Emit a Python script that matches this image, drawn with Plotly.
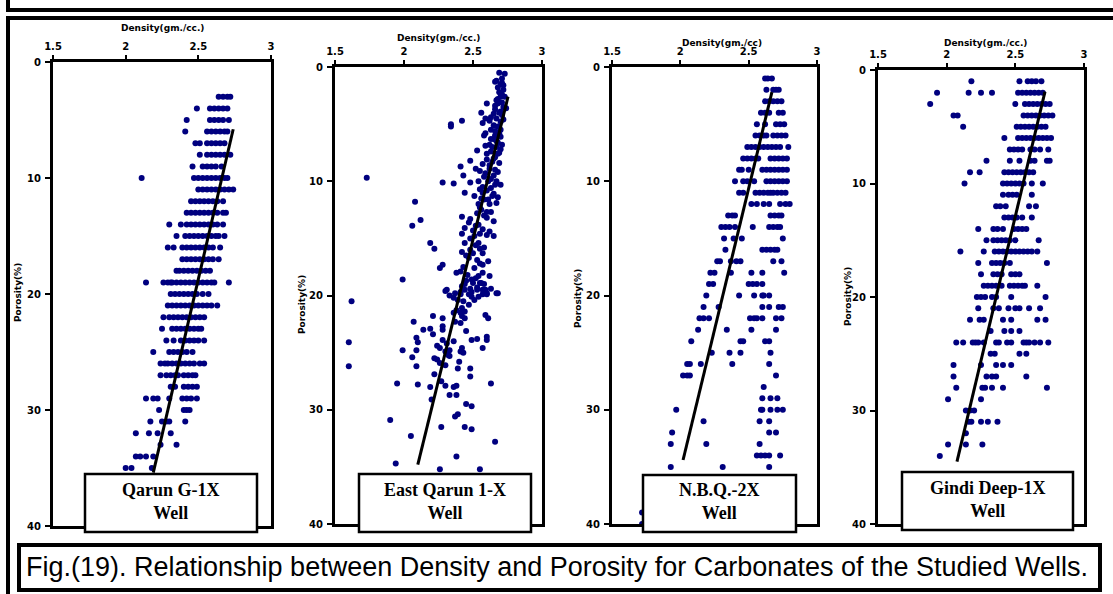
import plotly.graph_objects as go

W, H = 1113, 594

# ---------------- data ----------------
WELLS = ["Qarun G-1X<br>Well", "East Qarun 1-X<br>Well", "N.B.Q.-2X<br>Well", "Gindi Deep-1X<br>Well"]
X_TITLES = ["Density(gm./cc.)", "Density(gm./cc.)", "Density(gm./cc)", "Density(gm./cc.)"]
Y_TITLE = "Porosity(%)"
X_TICKS = [1.5, 2, 2.5, 3]
Y_TICKS = [0, 10, 20, 30, 40]
CAPTION = "Fig.(19). Relationship between Density and Porosity for Carbonates of the Studied Wells."

# (porosity %, [densities g/cc]) rows
QARUN_ROWS = [
    (3, [2.64, 2.67, 2.70, 2.72]),
    (4, [2.49, 2.58, 2.61, 2.64, 2.67, 2.70]),
    (5, [2.42, 2.58, 2.61, 2.64, 2.67, 2.71]),
    (6, [2.41, 2.56, 2.59, 2.62, 2.65, 2.68, 2.70]),
    (7, [2.48, 2.51, 2.56, 2.59, 2.62, 2.65, 2.68]),
    (8, [2.51, 2.56, 2.59, 2.62, 2.65, 2.68, 2.72]),
    (9, [2.46, 2.53, 2.56, 2.59, 2.62, 2.66]),
    (10, [2.11, 2.47, 2.50, 2.53, 2.56, 2.59, 2.62, 2.65, 2.68, 2.70]),
    (11, [2.50, 2.53, 2.56, 2.59, 2.62, 2.65, 2.68, 2.71, 2.74]),
    (12, [2.45, 2.48, 2.51, 2.54, 2.57, 2.60, 2.63, 2.67]),
    (13, [2.42, 2.45, 2.48, 2.51, 2.54, 2.57, 2.60, 2.63, 2.67, 2.69]),
    (14, [2.30, 2.38, 2.42, 2.45, 2.48, 2.51, 2.54, 2.57, 2.60, 2.63, 2.67]),
    (15, [2.35, 2.41, 2.44, 2.47, 2.50, 2.53, 2.56, 2.59, 2.62, 2.64, 2.68]),
    (16, [2.29, 2.33, 2.39, 2.42, 2.45, 2.48, 2.51, 2.54, 2.57, 2.60, 2.65]),
    (17, [2.39, 2.42, 2.45, 2.48, 2.51, 2.54, 2.57, 2.60, 2.64]),
    (18, [2.35, 2.37, 2.40, 2.43, 2.46, 2.49, 2.52, 2.55, 2.58]),
    (19, [2.14, 2.26, 2.29, 2.31, 2.32, 2.35, 2.38, 2.41, 2.44, 2.47, 2.50, 2.53, 2.56, 2.59, 2.61, 2.71]),
    (20, [2.31, 2.34, 2.37, 2.40, 2.43, 2.46, 2.49, 2.53, 2.57]),
    (21, [2.29, 2.32, 2.35, 2.38, 2.41, 2.44, 2.47, 2.50, 2.53, 2.56, 2.59, 2.63]),
    (22, [2.26, 2.30, 2.33, 2.36, 2.39, 2.42, 2.45, 2.48, 2.51, 2.54]),
    (23, [2.25, 2.32, 2.35, 2.38, 2.41, 2.44, 2.47, 2.50, 2.52]),
    (24, [2.28, 2.33, 2.38, 2.41, 2.44, 2.47, 2.50, 2.54]),
    (25, [2.19, 2.30, 2.33, 2.36, 2.39, 2.42, 2.46]),
    (26, [2.24, 2.27, 2.29, 2.32, 2.35, 2.38, 2.41, 2.44, 2.47, 2.51, 2.54]),
    (27, [2.24, 2.28, 2.31, 2.34, 2.36, 2.40, 2.43, 2.46, 2.48]),
    (28, [2.31, 2.34, 2.40, 2.43, 2.46, 2.49]),
    (29, [2.14, 2.19, 2.22, 2.30, 2.39, 2.42, 2.45, 2.49]),
    (30, [2.23, 2.40, 2.42, 2.44]),
    (31, [2.17, 2.25, 2.28, 2.30, 2.41]),
    (32, [2.07, 2.16, 2.22, 2.31]),
    (33, [2.24, 2.35]),
    (34, [2.07, 2.10, 2.14, 2.19]),
    (35, [2.00, 2.04, 2.18]),
]

# (density, porosity) scattered points
EAST_QARUN_POINTS = [
    (2.69, 0.5), (2.73, 0.6), (2.71, 1.0), (2.67, 1.2), (2.66, 1.3), (2.71, 1.4), (2.70, 1.5), (2.72, 1.6),
    (2.68, 1.8), (2.72, 2.0), (2.69, 2.2), (2.71, 2.4), (2.70, 2.6), (2.73, 2.6), (2.68, 2.8), (2.67, 2.9),
    (2.71, 3.1), (2.60, 3.2), (2.68, 3.2), (2.66, 3.4), (2.72, 3.5), (2.74, 3.6), (2.66, 3.7), (2.70, 3.9),
    (2.56, 4.0), (2.69, 4.0), (2.65, 4.1), (2.71, 4.2), (2.63, 4.4), (2.67, 4.5), (2.59, 4.5), (2.72, 4.6),
    (2.62, 4.7), (2.42, 4.7), (2.70, 4.8), (2.57, 4.9), (2.34, 5.0), (2.34, 5.2), (2.65, 5.1), (2.68, 5.2),
    (2.63, 5.5), (2.70, 5.5), (2.66, 5.6), (2.59, 5.8), (2.69, 5.8), (2.58, 6.0), (2.66, 6.0), (2.70, 6.1),
    (2.65, 6.3), (2.63, 6.3), (2.67, 6.5), (2.68, 6.6), (2.62, 6.8), (2.71, 6.8), (2.59, 6.9), (2.67, 7.0),
    (2.64, 7.0), (2.70, 7.2), (2.53, 7.3), (2.63, 7.4), (2.69, 7.5), (2.68, 7.6), (2.60, 7.6), (2.66, 7.9),
    (2.65, 8.0), (2.60, 8.1), (2.48, 8.2), (2.64, 8.3), (2.69, 8.4), (2.57, 8.5), (2.62, 8.6), (2.41, 8.7),
    (2.52, 8.9), (2.62, 8.9), (2.66, 9.0), (2.55, 9.1), (2.68, 9.2), (2.59, 9.3), (2.43, 9.5), (2.65, 9.5),
    (2.58, 9.6), (1.73, 9.7), (2.63, 9.8), (2.54, 10.0), (2.61, 10.0), (2.67, 10.0), (2.48, 10.1), (2.28, 10.1),
    (2.36, 10.2), (2.66, 10.3), (2.70, 10.3), (2.57, 10.5), (2.63, 10.6), (2.55, 10.7), (2.60, 10.8), (2.44, 11.0),
    (2.57, 11.0), (2.65, 11.1), (2.51, 11.3), (2.64, 11.3), (2.68, 11.4), (2.56, 11.5), (2.61, 11.6), (2.58, 11.6),
    (2.08, 11.8), (2.67, 11.9), (2.54, 12.0), (2.62, 12.0), (2.55, 12.3), (2.56, 12.5), (2.60, 12.7), (2.63, 12.7),
    (2.53, 12.8), (2.58, 13.0), (2.42, 13.1), (2.60, 13.2), (2.48, 13.3), (2.12, 13.4), (2.65, 13.5), (2.47, 13.6),
    (2.54, 13.8), (2.06, 13.9), (2.52, 13.9), (2.44, 14.1), (2.57, 14.2), (2.50, 14.3), (2.62, 14.4), (2.42, 14.6),
    (2.55, 14.6), (2.60, 14.7), (2.51, 14.8), (2.65, 14.8), (2.48, 15.0), (2.19, 15.4), (2.44, 15.4), (2.54, 15.4),
    (2.52, 15.6), (2.58, 15.8), (2.22, 15.9), (2.55, 15.9), (2.48, 16.0), (2.42, 16.2), (2.50, 16.3), (2.57, 16.3),
    (2.45, 16.5), (2.47, 16.7), (2.53, 16.9), (2.61, 17.0), (2.55, 17.2), (2.28, 17.3), (2.57, 17.3), (2.43, 17.5),
    (2.26, 17.6), (2.51, 17.6), (2.41, 17.9), (2.38, 18.0), (2.57, 18.0), (2.46, 18.2), (2.62, 18.3), (2.54, 18.3),
    (2.52, 18.5), (2.49, 18.6), (1.99, 18.6), (2.45, 18.7), (2.50, 18.9), (2.55, 18.9), (2.56, 18.9), (2.44, 19.0),
    (2.58, 19.0), (2.42, 19.2), (2.53, 19.3), (2.48, 19.4), (2.63, 19.4), (2.31, 19.5), (2.57, 19.5), (2.44, 19.5),
    (2.53, 19.5), (2.59, 19.5), (2.30, 19.6), (2.41, 19.7), (2.49, 19.7), (2.60, 19.8), (2.68, 19.8), (2.37, 19.8),
    (2.67, 19.8), (2.47, 19.9), (2.41, 19.9), (2.57, 19.9), (2.60, 19.9), (2.33, 20.0), (2.54, 20.1), (2.49, 20.1),
    (2.36, 20.2), (2.39, 20.4), (2.51, 20.4), (2.43, 20.5), (1.62, 20.5), (2.47, 20.8), (2.42, 21.1), (2.38, 21.3),
    (2.44, 21.4), (2.41, 21.5), (2.36, 21.5), (2.59, 21.7), (2.42, 21.8), (2.21, 21.8), (2.44, 22.0), (2.61, 22.0),
    (2.28, 22.0), (2.37, 22.3), (2.07, 22.3), (2.41, 22.4), (2.28, 22.7), (2.19, 22.9), (2.14, 23.0), (2.28, 23.0),
    (2.45, 23.1), (2.21, 23.4), (2.60, 23.6), (2.09, 23.7), (2.53, 23.8), (2.49, 23.9), (2.28, 23.9), (2.60, 23.9),
    (2.36, 24.0), (1.60, 24.1), (2.10, 24.1), (2.31, 24.2), (2.24, 24.4), (2.26, 24.6), (2.42, 24.6), (2.57, 24.6),
    (2.09, 24.8), (2.33, 24.8), (1.99, 24.8), (2.30, 24.9), (2.41, 24.9), (2.43, 25.0), (2.32, 25.2), (2.33, 25.3),
    (2.06, 25.4), (2.22, 25.5), (2.24, 25.6), (2.40, 25.8), (2.26, 25.9), (2.30, 26.1), (1.60, 26.2), (2.09, 26.2),
    (2.39, 26.4), (2.48, 26.4), (2.22, 26.9), (2.48, 27.1), (2.27, 27.5), (1.95, 27.7), (2.63, 27.7), (2.10, 27.8),
    (2.30, 27.9), (2.38, 27.9), (2.19, 28.0), (2.36, 28.0), (2.33, 28.7), (2.38, 28.7), (2.20, 29.1), (2.45, 29.5),
    (2.49, 29.7), (2.39, 30.4), (2.37, 30.6), (1.90, 30.9), (2.27, 31.5), (2.44, 31.5), (2.49, 31.7), (2.05, 32.3),
    (2.66, 32.8), (2.38, 34.1), (1.94, 34.7), (2.26, 35.2), (2.55, 35.2),
]

NBQ_ROWS = [
    (1, [2.62, 2.64, 2.67]),
    (2, [2.63, 2.68, 2.70, 2.72]),
    (3, [2.62, 2.65, 2.68, 2.71, 2.74]),
    (4, [2.59, 2.62, 2.65, 2.72, 2.75]),
    (5, [2.56, 2.62, 2.70, 2.73, 2.76]),
    (6, [2.55, 2.58, 2.61, 2.63, 2.68, 2.71, 2.74, 2.77]),
    (7, [2.49, 2.52, 2.55, 2.58, 2.61, 2.64, 2.67, 2.70, 2.73, 2.79]),
    (8, [2.46, 2.49, 2.52, 2.55, 2.57, 2.66, 2.69, 2.72, 2.75, 2.78]),
    (9, [2.43, 2.45, 2.50, 2.60, 2.63, 2.66, 2.69, 2.72, 2.75, 2.78]),
    (10, [2.40, 2.46, 2.49, 2.54, 2.63, 2.66, 2.69, 2.72, 2.75, 2.78]),
    (11, [2.43, 2.46, 2.55, 2.58, 2.61, 2.64, 2.66, 2.68, 2.71, 2.74, 2.77]),
    (12, [2.52, 2.56, 2.61, 2.65, 2.73, 2.77, 2.80]),
    (13, [2.35, 2.38, 2.40, 2.66, 2.69, 2.72, 2.74]),
    (14, [2.30, 2.33, 2.36, 2.40, 2.53, 2.65, 2.68, 2.71, 2.73]),
    (15, [2.32, 2.39, 2.45, 2.75]),
    (16, [2.33, 2.60, 2.63, 2.66, 2.69, 2.71]),
    (17, [2.27, 2.29, 2.37, 2.41, 2.44, 2.68, 2.74]),
    (18, [2.22, 2.25, 2.37, 2.52, 2.60, 2.76]),
    (19, [2.21, 2.24, 2.50, 2.53, 2.56, 2.60]),
    (20, [2.19, 2.43, 2.54, 2.60, 2.61, 2.65]),
    (21, [2.17, 2.28, 2.60, 2.65, 2.72, 2.75]),
    (22, [2.14, 2.17, 2.21, 2.51, 2.54, 2.56, 2.60, 2.70, 2.74]),
    (23, [2.13, 2.34, 2.52, 2.70]),
    (24, [2.08, 2.44, 2.46, 2.62, 2.65]),
    (25, [2.23, 2.36, 2.44, 2.66]),
    (26, [2.05, 2.07, 2.15, 2.38, 2.65]),
    (27, [2.02, 2.05, 2.07, 2.70]),
    (28, [2.61]),
    (29, [2.60, 2.66, 2.71]),
    (30, [1.97, 2.59, 2.60, 2.66, 2.71, 2.75]),
    (31, [2.17, 2.58, 2.65]),
    (32, [1.94, 2.65, 2.70]),
    (33, [1.93, 2.19, 2.58]),
    (34, [2.56, 2.59, 2.62, 2.65, 2.73]),
    (35, [1.93, 2.31, 2.65]),
    (39, [1.72]),
    (40, [1.72]),
]

GINDI_ROWS = [
    (1, [2.18, 2.53, 2.59, 2.62, 2.65, 2.69]),
    (2, [1.93, 2.16, 2.25, 2.33, 2.52, 2.55, 2.58, 2.61, 2.64, 2.67, 2.70]),
    (3, [1.88, 2.50, 2.57, 2.60, 2.63, 2.66, 2.69, 2.72, 2.75]),
    (4, [2.05, 2.08, 2.56, 2.59, 2.62, 2.65, 2.68, 2.71, 2.74, 2.77]),
    (5, [2.12, 2.51, 2.54, 2.57, 2.60, 2.63, 2.66, 2.69, 2.72]),
    (6, [2.42, 2.52, 2.55, 2.58, 2.61, 2.64, 2.67, 2.70, 2.73, 2.76]),
    (7, [2.46, 2.49, 2.52, 2.55, 2.61, 2.64, 2.68, 2.74]),
    (8, [2.29, 2.46, 2.53, 2.61, 2.64, 2.73, 2.75]),
    (9, [2.17, 2.24, 2.42, 2.45, 2.48, 2.51, 2.54, 2.57, 2.60, 2.63]),
    (10, [2.13, 2.41, 2.44, 2.47, 2.50, 2.53, 2.56, 2.62, 2.70]),
    (11, [2.41, 2.45, 2.48, 2.51, 2.62]),
    (12, [2.36, 2.39, 2.43, 2.60, 2.65]),
    (13, [2.42, 2.45, 2.48, 2.51, 2.55, 2.62]),
    (14, [2.23, 2.34, 2.37, 2.41, 2.49, 2.52, 2.55, 2.58]),
    (15, [2.29, 2.34, 2.37, 2.40, 2.43, 2.46, 2.50, 2.67]),
    (16, [2.10, 2.27, 2.35, 2.38, 2.41, 2.44, 2.47, 2.50, 2.53, 2.56, 2.59, 2.62, 2.66]),
    (17, [2.23, 2.33, 2.36, 2.39, 2.42, 2.46, 2.73]),
    (18, [2.25, 2.34, 2.37, 2.40, 2.47, 2.50, 2.53]),
    (19, [2.27, 2.30, 2.33, 2.36, 2.40, 2.46, 2.49, 2.52, 2.55, 2.57, 2.66]),
    (20, [2.22, 2.25, 2.28, 2.33, 2.36, 2.47, 2.72]),
    (21, [2.23, 2.34, 2.38, 2.45, 2.50, 2.53, 2.60, 2.68]),
    (22, [2.17, 2.24, 2.27, 2.41, 2.47, 2.66, 2.72]),
    (23, [2.32, 2.42, 2.47, 2.53]),
    (24, [2.07, 2.12, 2.19, 2.21, 2.23, 2.27, 2.36, 2.38, 2.44, 2.47, 2.56, 2.58, 2.60, 2.64, 2.68, 2.74]),
    (25, [2.32, 2.35, 2.53, 2.58]),
    (26, [2.05, 2.25, 2.36, 2.41, 2.47]),
    (27, [2.05, 2.29, 2.33, 2.36, 2.58]),
    (28, [2.07, 2.26, 2.28, 2.33, 2.41, 2.73]),
    (29, [2.01, 2.25]),
    (30, [2.14, 2.17, 2.20]),
    (31, [2.16, 2.18, 2.25, 2.30, 2.37]),
    (32, [2.14]),
    (33, [2.01, 2.14, 2.26]),
    (34, [1.95]),
]

# regression line end points: (density, porosity)
FIT_LINES = [
    [(2.74, 5.8), (2.19, 35.4)],
    [(2.754, 2.6), (2.10, 34.8)],
    [(2.67, 2.2), (2.02, 34.4)],
    [(2.716, 1.9), (2.075, 34.5)],
]


def rows_to_xy(rows):
    xs, ys = [], []
    for p, ds in rows:
        for d in ds:
            xs.append(d)
            ys.append(p)
    return xs, ys


SERIES = [
    rows_to_xy(QARUN_ROWS),
    ([d for d, p in EAST_QARUN_POINTS], [p for d, p in EAST_QARUN_POINTS]),
    rows_to_xy(NBQ_ROWS),
    rows_to_xy(GINDI_ROWS),
]

# ---------------- layout (pixel geometry) ----------------
def px(x):
    return x / W


def py(y):
    return 1 - y / H


PLOT_BOX = [  # left, right, top, bottom in pixels
    (53, 271, 62, 526),
    (335, 542, 67, 524),
    (612, 817, 67, 524),
    (878, 1084, 70, 524),
]
XTITLE_POS = [(162, 28), (438, 38), (722, 43), (985, 43)]
YTITLE_POS = [(18, 293), (302, 305), (578, 298), (848, 297)]
WELL_BOX = [(85, 257, 474, 532), (359, 531, 474, 532), (643, 796, 475, 532), (902, 1073, 472, 530)]

NAVY = "#00007f"
TICK_FONT = dict(family="DejaVu Sans", size=10, color="black", weight="bold")
TITLE_FONT = dict(family="DejaVu Sans", size=9, color="black", weight="bold")

fig = go.Figure()
layout = dict(
    width=W, height=H, margin=dict(l=0, r=0, t=0, b=0, pad=0, autoexpand=False),
    paper_bgcolor="white", plot_bgcolor="white", showlegend=False,
)
shapes, annotations = [], []

for i in range(4):
    n = "" if i == 0 else str(i + 1)
    xa, ya = "x" + n, "y" + n
    xs, ys = SERIES[i]
    fig.add_trace(go.Scatter(
        x=xs, y=ys, mode="markers", xaxis=xa, yaxis=ya,
        marker=dict(color=NAVY, size=6, line=dict(width=0)), hoverinfo="skip"))
    (x0, y0), (x1, y1) = FIT_LINES[i]
    fig.add_trace(go.Scatter(
        x=[x0, x1], y=[y0, y1], mode="lines", xaxis=xa, yaxis=ya,
        line=dict(color="black", width=3), hoverinfo="skip"))
    l, r, t, b = PLOT_BOX[i]
    layout["xaxis" + n] = dict(
        domain=[px(l), px(r)], anchor=ya, side="top", range=[1.5, 3], automargin=False,
        tickvals=X_TICKS, ticktext=[str(v) for v in X_TICKS],
        showline=True, linecolor="black", linewidth=3, mirror=True,
        ticks="outside", ticklen=4, tickwidth=2, tickcolor="black",
        showgrid=False, zeroline=False, tickfont=TICK_FONT, ticklabelstandoff=1)
    layout["yaxis" + n] = dict(
        domain=[py(b), py(t)], anchor=xa, range=[40, 0], automargin=False,
        tickvals=Y_TICKS, showline=True, linecolor="black", linewidth=3, mirror=True,
        ticks="outside", ticklen=5, tickwidth=2, tickcolor="black",
        showgrid=False, zeroline=False, tickfont=TICK_FONT, ticklabelstandoff=2)
    tx, ty = XTITLE_POS[i]
    annotations.append(dict(text=X_TITLES[i], x=px(tx), y=py(ty), xref="paper", yref="paper",
                            showarrow=False, xanchor="center", yanchor="middle", font=TITLE_FONT))
    yx, yy = YTITLE_POS[i]
    annotations.append(dict(text=Y_TITLE, x=px(yx), y=py(yy), xref="paper", yref="paper",
                            showarrow=False, xanchor="center", yanchor="middle", textangle=-90,
                            font=TITLE_FONT))
    bl, br, bt, bb = WELL_BOX[i]
    shapes.append(dict(type="rect", xref="paper", yref="paper", x0=px(bl), x1=px(br),
                       y0=py(bb), y1=py(bt), line=dict(color="black", width=2.5),
                       fillcolor="white", layer="above"))
    annotations.append(dict(text=WELLS[i], x=px((bl + br) / 2), y=py((bt + bb) / 2 - 2),
                            xref="paper", yref="paper", showarrow=False,
                            xanchor="center", yanchor="middle",
                            font=dict(family="Liberation Serif", size=18, color="black", weight="bold")))

# figure frames
def hline(x0, x1, y, w=4):
    return dict(type="line", xref="paper", yref="paper", x0=px(x0), x1=px(x1), y0=py(y), y1=py(y),
                line=dict(color="black", width=w), layer="above")


def vline(x, y0, y1, w=4):
    return dict(type="line", xref="paper", yref="paper", x0=px(x), x1=px(x), y0=py(y0), y1=py(y1),
                line=dict(color="black", width=w), layer="above")


shapes += [
    vline(8, 0, 12), hline(6, W, 10),
    hline(6, W, 18), vline(8, 16, H),
    dict(type="rect", xref="paper", yref="paper", x0=px(19), x1=px(1100), y0=py(590), y1=py(545),
         line=dict(color="black", width=4), fillcolor="rgba(0,0,0,0)", layer="above"),
]
annotations.append(dict(text=CAPTION, x=px(557), y=py(567), xref="paper", yref="paper",
                        showarrow=False, xanchor="center", yanchor="middle",
                        font=dict(family="Liberation Sans", size=27, color="black")))

layout["shapes"] = shapes
layout["annotations"] = annotations
fig.update_layout(**layout)
fig.write_html("out.html", post_script="document.body.style.margin='0px';")
